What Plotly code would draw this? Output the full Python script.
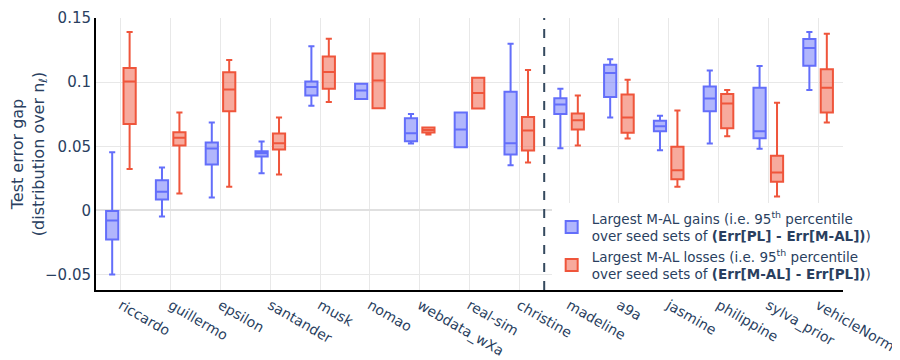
import plotly.graph_objects as go

# datasets, left group (before dashed line) and right group
DATASETS = ["riccardo", "guillermo", "epsilon", "santander", "musk", "nomao",
            "webdata_wXa", "real-sim", "christine", "madeline", "a9a", "jasmine",
            "philippine", "sylva_prior", "vehicleNorm"]

# box statistics: gains (blue)
GAIN_LOW = [-0.050, -0.0047, 0.0101, 0.029, 0.0817, 0.0869, 0.0521, 0.0493, 0.0353,
            0.0485, 0.0724, 0.0469, 0.0521, 0.048, 0.0939]
GAIN_Q1 = [-0.0226, 0.0086, 0.0358, 0.042, 0.0895, 0.0869, 0.0539, 0.0493, 0.0436,
           0.0752, 0.0885, 0.0617, 0.0773, 0.0563, 0.1128]
GAIN_MED = [-0.0078, 0.0146, 0.0482, 0.0446, 0.0962, 0.0934, 0.0602, 0.063, 0.0524,
            0.0825, 0.1071, 0.0656, 0.0872, 0.0617, 0.1266]
GAIN_Q3 = [-0.0005, 0.0236, 0.0529, 0.0462, 0.1006, 0.0988, 0.0718, 0.0763, 0.0926,
           0.0874, 0.1136, 0.070, 0.0967, 0.0957, 0.1336]
GAIN_HIGH = [0.0454, 0.0335, 0.0685, 0.0537, 0.128, 0.0988, 0.0752, 0.0763, 0.130,
             0.0949, 0.1178, 0.0739, 0.109, 0.1126, 0.139]

# losses (red)
LOSS_LOW = [0.0324, 0.0132, 0.0184, 0.028, 0.0846, 0.0796, 0.0592, 0.0794, 0.0374,
            0.0506, 0.056, 0.0184, 0.0578, 0.0109, 0.0685]
LOSS_Q1 = [0.0674, 0.0506, 0.0773, 0.0475, 0.0949, 0.0796, 0.0608, 0.0794, 0.0467,
           0.063, 0.0605, 0.0244, 0.064, 0.0223, 0.0763]
LOSS_MED = [0.1006, 0.0566, 0.0942, 0.0524, 0.108, 0.1012, 0.0628, 0.0916, 0.0623,
            0.0703, 0.0724, 0.0314, 0.0833, 0.0296, 0.0957]
LOSS_Q3 = [0.111, 0.061, 0.1077, 0.0599, 0.120, 0.1224, 0.0646, 0.1035, 0.0729,
           0.0755, 0.0903, 0.0496, 0.0908, 0.0426, 0.110]
LOSS_HIGH = [0.139, 0.0763, 0.1173, 0.0724, 0.1339, 0.1224, 0.0646, 0.1035, 0.1095,
             0.0895, 0.1019, 0.078, 0.0939, 0.084, 0.1377]

GAIN_NAME = ("Largest M-AL gains (i.e. 95<sup>th</sup> percentile<br>"
             "over seed sets of <b>(Err[PL] - Err[M-AL])</b>)")
LOSS_NAME = ("Largest M-AL losses (i.e. 95<sup>th</sup> percentile<br>"
             "over seed sets of <b>(Err[M-AL] - Err[PL])</b>)")

FONT = "DejaVu Sans, Verdana, sans-serif"
TEXT = "#2a3f5f"

fig = go.Figure()
fig.add_trace(go.Box(
    x=DATASETS, q1=GAIN_Q1, median=GAIN_MED, q3=GAIN_Q3,
    lowerfence=GAIN_LOW, upperfence=GAIN_HIGH,
    name=GAIN_NAME, marker_color="#636efa", line_width=2,
))
fig.add_trace(go.Box(
    x=DATASETS, q1=LOSS_Q1, median=LOSS_MED, q3=LOSS_Q3,
    lowerfence=LOSS_LOW, upperfence=LOSS_HIGH,
    name=LOSS_NAME, marker_color="#ef553b", line_width=2,
))

# separator between the two dataset groups
fig.add_vline(x=8.5, line=dict(color="#34495e", width=2, dash="dash"))

# page body adds an 8px margin, so the figure is sized to fit inside the window
fig.update_layout(
    template="plotly_white",
    width=892, height=352,
    margin=dict(l=88, r=57, t=10, b=70, autoexpand=False),
    boxmode="group",
    font=dict(family=FONT, color=TEXT, size=13),
    legend=dict(
        x=0.61, y=0.32, xanchor="left", yanchor="top",
        bgcolor="white", font=dict(size=13.5),
        tracegroupgap=2,
    ),
    xaxis=dict(
        tickangle=30, showline=True, linecolor="black", linewidth=2,
        gridcolor="#e8e8e8", tickfont=dict(size=14), automargin=False,
    ),
    yaxis=dict(
        title=dict(text="Test error gap<br>(distribution over n<sub>ℓ</sub>)",
                   font=dict(size=16), standoff=1),
        range=[-0.062, 0.15], dtick=0.05,
        showline=True, linecolor="black", linewidth=2,
        gridcolor="#e8e8e8", zerolinecolor="#e0e0e0", zerolinewidth=1.5,
        tickfont=dict(size=15), automargin=False,
    ),
)

fig.write_html("out.html")
